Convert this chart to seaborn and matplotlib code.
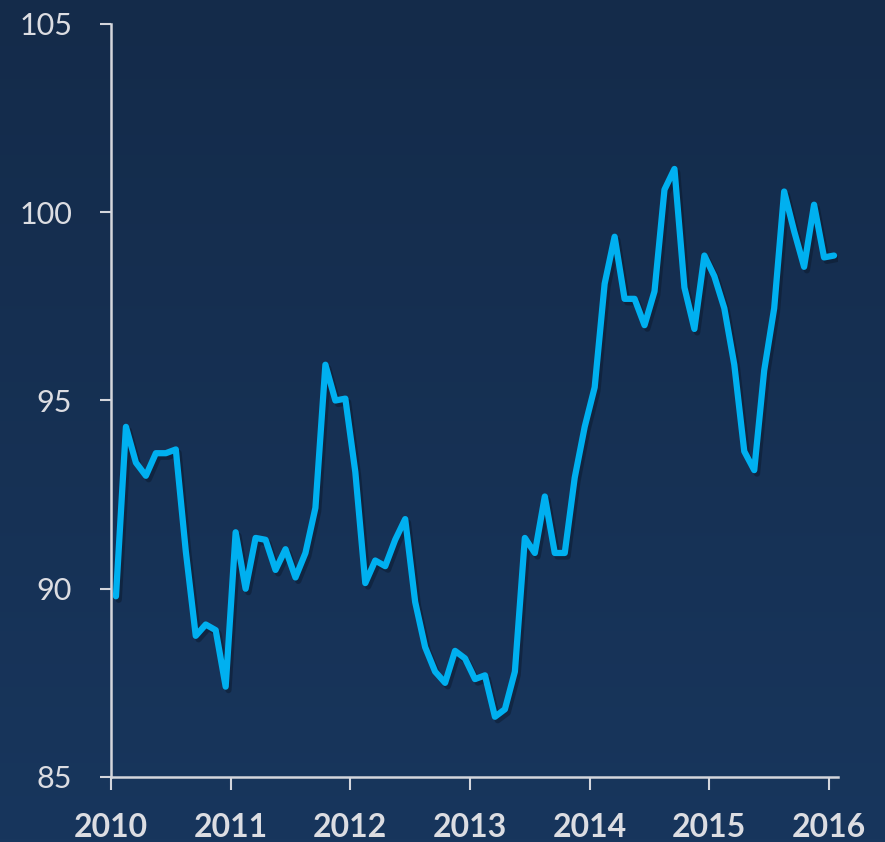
import numpy as np
import pandas as pd
import matplotlib
matplotlib.use("Agg")
import matplotlib.pyplot as plt
import matplotlib.patheffects as pe
import seaborn as sns

# monthly index, Jan 2010 - Jan 2016
years = [2010] * 12 + [2011] * 12 + [2012] * 12 + [2013] * 12 + [2014] * 12 + [2015] * 12 + [2016]
months = list(range(1, 13)) * 6 + [1]
values = [
    89.8, 94.3, 93.35, 93.0, 93.6, 93.6, 93.7, 91.0, 88.75, 89.05, 88.9, 87.4,
    91.5, 90.0, 91.35, 91.3, 90.5, 91.05, 90.3, 90.95, 92.15, 95.95, 95.0, 95.05,
    93.1, 90.15, 90.75, 90.6, 91.3, 91.85, 89.65, 88.45, 87.8, 87.5, 88.35, 88.15,
    87.6, 87.7, 86.6, 86.8, 87.8, 91.35, 90.95, 92.45, 90.95, 90.95, 92.95, 94.3,
    95.35, 98.1, 99.35, 97.7, 97.7, 97.0, 97.9, 100.6, 101.15, 98.0, 96.9, 98.85,
    98.3, 97.45, 95.95, 93.65, 93.15, 95.8, 97.45, 100.55, 99.5, 98.55, 100.2, 98.8,
    98.85,
]
x_ticks = [2010, 2011, 2012, 2013, 2014, 2015, 2016]
y_ticks = [85, 90, 95, 100, 105]

df = pd.DataFrame({"year": years, "month": months, "value": values})
df["t"] = df["year"] + (df["month"] - 0.5) / 12

sns.set_style("ticks")
plt.rcParams["font.family"] = ["Lato", "DejaVu Sans"]

text_col = "#dcdde2"
axis_col = "#d4d6dc"

fig = plt.figure(figsize=(8.85, 8.42), dpi=100)

# background gradient
bg = fig.add_axes([0, 0, 1, 1], zorder=-10)
grad = np.linspace(0, 1, 256).reshape(-1, 1)
top = np.array([20, 43, 74]) / 255
bot = np.array([24, 54, 93]) / 255
img = top + (bot - top) * grad[..., None]
bg.imshow(img, aspect="auto", extent=[0, 1, 0, 1])
bg.axis("off")

ax = fig.add_axes([0.1254, 0.0772, 0.8215, 0.8943])
ax.patch.set_alpha(0)

sns.lineplot(data=df, x="t", y="value", ax=ax, color="#00b0f0", linewidth=4.5,
             solid_joinstyle="round", solid_capstyle="round")
ax.lines[0].set_path_effects([
    pe.SimpleLineShadow(offset=(2, -2.5), shadow_color="#0a1628", alpha=0.45),
    pe.Normal(),
])

ax.set_xlim(2010, 2016.075)
ax.set_ylim(85, 105)
ax.set_xticks(x_ticks)
ax.set_xticklabels([str(v) for v in x_ticks], fontweight="bold")
ax.set_yticks(y_ticks)
ax.set_xlabel("")
ax.set_ylabel("")

for side in ["top", "right"]:
    ax.spines[side].set_visible(False)
for side in ["left", "bottom"]:
    ax.spines[side].set_color(axis_col)
    ax.spines[side].set_linewidth(1.8)

ax.tick_params(axis="x", colors=axis_col, labelcolor=text_col, length=9, width=1.5,
               labelsize=23, pad=17)
ax.tick_params(axis="y", colors=axis_col, labelcolor=text_col, length=8, width=1.5,
               labelsize=22, pad=20)

fig.savefig("out.png", dpi=100)
